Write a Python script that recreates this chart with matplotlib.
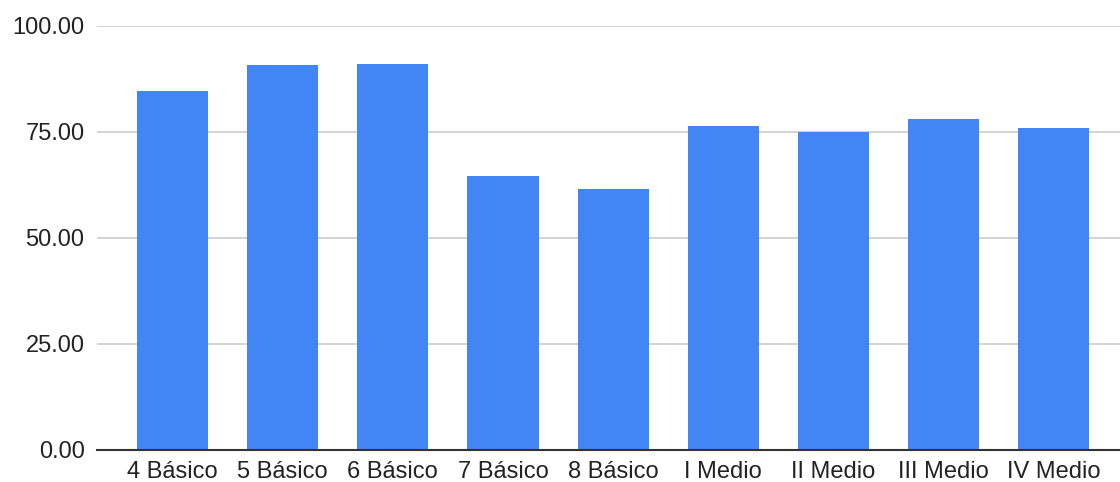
import matplotlib
matplotlib.use("Agg")
import matplotlib.pyplot as plt
from matplotlib.ticker import FormatStrFormatter

categories = ["4 Básico", "5 Básico", "6 Básico", "7 Básico", "8 Básico",
              "I Medio", "II Medio", "III Medio", "IV Medio"]
values = [84.6, 90.7, 91.1, 64.6, 61.6, 76.4, 75.1, 78.1, 75.9]
yticks = [0, 25, 50, 75, 100]

plt.rcParams['font.family'] = ['Liberation Sans', 'DejaVu Sans']

fig = plt.figure(figsize=(11.2, 4.82), dpi=100)
ax = fig.add_axes([97/1120, 32/482, 1 - 97/1120, 424/482])

x = list(range(len(categories)))
ax.bar(x, values, width=0.645, color="#4285F4", zorder=3)

ax.set_ylim(0, 100)
ax.set_xlim(-0.685, 8.6)
ax.set_yticks(yticks)
ax.yaxis.set_major_formatter(FormatStrFormatter('%.2f'))
ax.set_xticks(x)
ax.set_xticklabels(categories)

ax.grid(axis='y', color="#cccccc", linewidth=1.2, zorder=0)
ax.grid(axis='x', visible=False)
for s in ['top', 'right', 'left']:
    ax.spines[s].set_visible(False)
ax.spines['bottom'].set_color("#333333")
ax.spines['bottom'].set_linewidth(1.5)
ax.spines['bottom'].set_zorder(4)
ax.tick_params(axis='both', length=0, labelsize=17, colors="#222222")
ax.tick_params(axis='y', pad=9)
ax.tick_params(axis='x', pad=8)

fig.savefig("out.png", dpi=100)
